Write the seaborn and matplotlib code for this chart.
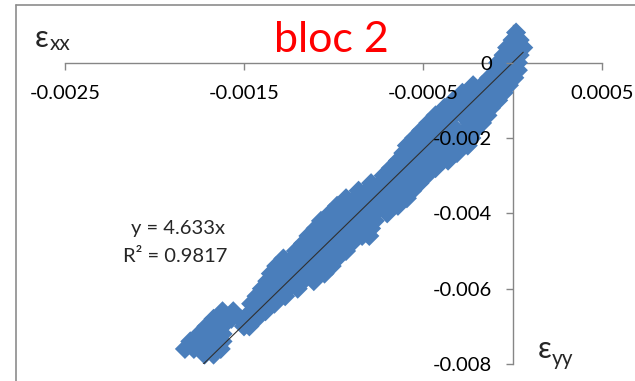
import matplotlib
matplotlib.use("Agg")
import matplotlib.pyplot as plt
from matplotlib.lines import Line2D
import seaborn as sns
import pandas as pd

sns.set_theme(style="white")
plt.rcParams['font.family'] = ['Lato', 'DejaVu Sans']

# ---- data (eps_yy on x, eps_xx on y) ----
row_eps_xx = [0.0008, 0.0006, 0.0004, 0.0002, 0.0, -0.0002, -0.0004, -0.0006,
              -0.0008, -0.001, -0.0012, -0.0014, -0.0016, -0.0018, -0.002,
              -0.0022, -0.0024, -0.0026, -0.0028, -0.003, -0.0032, -0.0034,
              -0.0036, -0.0038, -0.004, -0.0042, -0.0044, -0.0046, -0.0048,
              -0.005, -0.0052, -0.0054, -0.0056, -0.0058, -0.006, -0.0062,
              -0.0064, -0.0066, -0.0068, -0.007, -0.0072, -0.0074, -0.0076,
              -0.00775]
row_eps_yy = [
    [0.00002],
    [0.0, 0.00004],
    [-0.00003, 0.00002, 0.00006],
    [-0.00005, 0.0, 0.00004],
    [-0.00008, -0.00004, 0.0, 0.00003],
    [-0.00009, -0.00004, 0.0, 0.00003],
    [-0.00013, -0.00008, -0.00003, 0.00001],
    [-0.00022, -0.00017, -0.00012, -0.00007, -0.00002],
    [-0.00028, -0.00023, -0.00018, -0.00013, -0.00008, -0.00005],
    [-0.00033, -0.00028, -0.00023, -0.00018, -0.00013, -0.00008],
    [-0.00038, -0.00033, -0.00028, -0.00023, -0.00018, -0.00012],
    [-0.00043, -0.00038, -0.00033, -0.00028, -0.00023, -0.00018, -0.00014],
    [-0.00047, -0.00042, -0.00036, -0.00024, -0.00017],
    [-0.00051, -0.00046, -0.00041, -0.00036, -0.00031, -0.00026, -0.00021],
    [-0.00055, -0.0005, -0.00045, -0.0004, -0.00035, -0.0003, -0.00023],
    [-0.00059, -0.00054, -0.00049, -0.00044, -0.00039, -0.00034, -0.00029, -0.00025],
    [-0.00061, -0.00056, -0.00051, -0.00046, -0.00041, -0.00036, -0.00031],
    [-0.00064, -0.00059, -0.00054, -0.00049, -0.00044, -0.00039, -0.00036],
    [-0.00068, -0.00063, -0.00058, -0.00053, -0.00048, -0.00043],
    [-0.00072, -0.00067, -0.00062, -0.00057, -0.00052, -0.00048],
    [-0.00079, -0.00074, -0.00069, -0.00064, -0.00059, -0.00054, -0.00052],
    [-0.00086, -0.00081, -0.00076, -0.00071, -0.00066, -0.00061, -0.00056],
    [-0.00093, -0.00088, -0.00083, -0.00078, -0.00073, -0.00068, -0.00063, -0.00059],
    [-0.00098, -0.00093, -0.00088, -0.00083, -0.00078, -0.00073, -0.00068, -0.00064],
    [-0.00102, -0.00097, -0.00092, -0.00087, -0.00082, -0.00077, -0.0007],
    [-0.00107, -0.00102, -0.00097, -0.00092, -0.00087, -0.00082, -0.00077],
    [-0.0011, -0.00105, -0.001, -0.00095, -0.0009, -0.00085, -0.00079],
    [-0.00114, -0.00109, -0.00104, -0.00099, -0.00094, -0.00089, -0.00084, -0.0008],
    [-0.00117, -0.00112, -0.00107, -0.00102, -0.00097, -0.0009],
    [-0.00121, -0.00116, -0.00111, -0.00106, -0.00101, -0.00096, -0.00093],
    [-0.00128, -0.00123, -0.00118, -0.00113, -0.00108, -0.00103, -0.00098],
    [-0.00132, -0.00127, -0.00122, -0.00117, -0.00112, -0.00107, -0.00101],
    [-0.00135, -0.0013, -0.00125, -0.0012, -0.00115, -0.0011, -0.00105],
    [-0.00137, -0.00132, -0.00127, -0.00122, -0.00117, -0.00111],
    [-0.0014, -0.00135, -0.0013, -0.00125, -0.0012],
    [-0.00143, -0.00138, -0.00133, -0.00127],
    [-0.00146, -0.00141, -0.00136, -0.00133],
    [-0.00162, -0.00156, -0.00146, -0.00141, -0.00138],
    [-0.00167, -0.00162, -0.00157, -0.00152, -0.00147, -0.00143],
    [-0.00171, -0.00166, -0.00162, -0.0015, -0.00147],
    [-0.00175, -0.0017, -0.00165, -0.00162],
    [-0.0018, -0.00175, -0.0017, -0.00165, -0.00162],
    [-0.00183, -0.00178, -0.00173, -0.00168, -0.00163],
    [-0.00172, -0.00167],
]

trend_slope = 4.633
trend_label = ["y = 4.633x", "R² = 0.9817"]
x_ticks = [-0.0025, -0.0015, -0.0005, 0.0005]
x_tick_labels = ["-0.0025", "-0.0015", "-0.0005", "0.0005"]
y_ticks = [0.0, -0.002, -0.004, -0.006, -0.008]
y_tick_labels = ["0", "-0.002", "-0.004", "-0.006", "-0.008"]
title = "bloc 2"

records = []
for yv, xs in zip(row_eps_xx, row_eps_yy):
    for xv in xs:
        records.append({"eps_yy": xv, "eps_xx": yv})
df = pd.DataFrame(records)

xmin, xmax = df["eps_yy"].min(), df["eps_yy"].max()
trend = pd.DataFrame({"eps_yy": [xmin, xmax],
                      "eps_xx": [trend_slope * xmin, trend_slope * xmax]})

# ---- figure ----
W, H = 635, 381
fig = plt.figure(figsize=(W / 100, H / 100), dpi=100)
fig.patch.set_facecolor("white")
ax = fig.add_axes([65 / W, (H - 364) / H, 537 / W, 339 / H])
ax.set_facecolor("none")

blue = "#4A7EBB"
sns.scatterplot(data=df, x="eps_yy", y="eps_xx", ax=ax, marker="D", s=105,
                color=blue, linewidth=0, edgecolor="none", clip_on=False,
                zorder=1, legend=False)
sns.lineplot(data=trend, x="eps_yy", y="eps_xx", ax=ax, color="#303030",
             linewidth=0.8, zorder=2, legend=False)

ax.set_xlim(-0.0025, 0.0005)
ax.set_ylim(-0.008, 0.001)
ax.set_xlabel("")
ax.set_ylabel("")

grey = "#868686"
for s in ["top", "right"]:
    ax.spines[s].set_visible(False)
ax.spines["left"].set_position(("data", 0))
ax.spines["bottom"].set_position(("data", 0))
for s in ["left", "bottom"]:
    ax.spines[s].set_color(grey)
    ax.spines[s].set_linewidth(1.0)
    ax.spines[s].set_zorder(0.5)

ax.set_xticks(x_ticks)
ax.set_xticklabels(x_tick_labels)
ax.set_yticks(y_ticks)
ax.set_yticklabels(y_tick_labels)
ax.tick_params(axis="x", direction="out", length=5, width=1, color=grey,
               pad=11, labelsize=14.5, labelcolor="black", bottom=True)
ax.tick_params(axis="y", direction="out", length=5, width=1, color=grey,
               pad=10, labelsize=14.5, labelcolor="black", left=True)
ax.grid(False)
ax.set_axisbelow(False)
ax.xaxis.set_zorder(3)
ax.yaxis.set_zorder(3)

# chart border (Excel chart area)
fig.add_artist(Line2D([16 / W, 1.0], [1 - 5 / H, 1 - 5 / H], color="#8c8c8c",
                      linewidth=1.2, transform=fig.transFigure))
fig.add_artist(Line2D([16 / W, 16 / W], [0.0, 1 - 5 / H], color="#8c8c8c",
                      linewidth=1.2, transform=fig.transFigure))

# texts
fig.text(331.5 / W, 1 - 52 / H, title, ha="center", va="baseline",
         color="#FF0000", fontsize=31)
fig.text(35 / W, 1 - 47 / H, "ε", ha="left", va="baseline", fontsize=22)
fig.text(50 / W, 1 - 50 / H, "xx", ha="left", va="baseline", fontsize=15)
fig.text(538 / W, 1 - 358 / H, "ε", ha="left", va="baseline", fontsize=22)
fig.text(552 / W, 1 - 365 / H, "yy", ha="left", va="baseline", fontsize=15)
fig.text(178 / W, 1 - 228 / H, trend_label[0], ha="center", va="center",
         fontsize=14.5)
fig.text(175 / W, 1 - 257 / H, trend_label[1], ha="center", va="center",
         fontsize=14.5)

fig.savefig("out.png", dpi=100, facecolor="white")
